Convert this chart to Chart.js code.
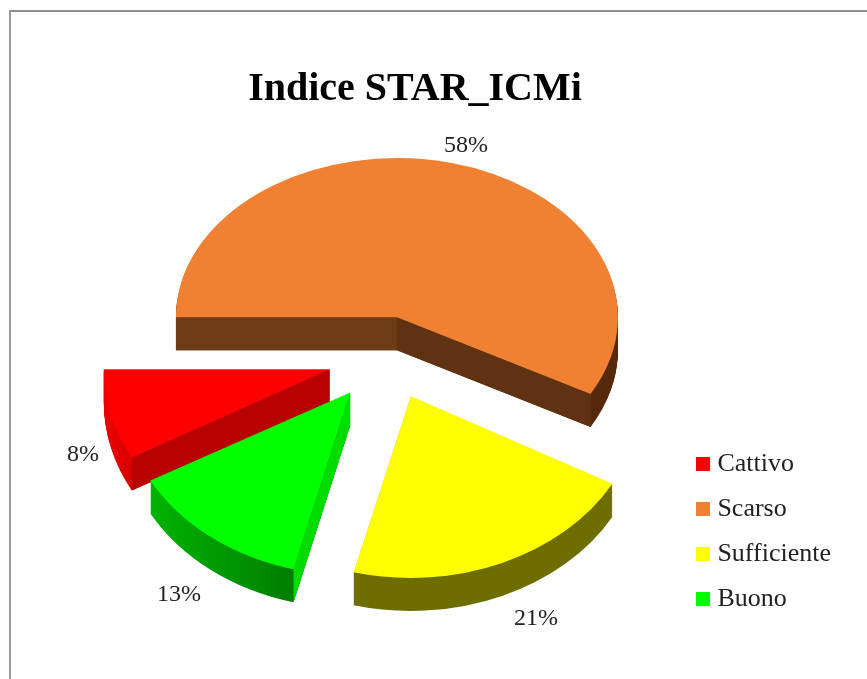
<!DOCTYPE html>
<html>
<head>
<meta charset="utf-8">
<style>
  html, body { margin: 0; padding: 0; background: #fff; width: 867px; height: 679px; overflow: hidden; }
  #frame { position: absolute; left: 9px; top: 10px; right: 0; bottom: 0; border-left: 2px solid #9a9a9a; border-top: 2px solid #8f8f8f; }
  canvas { position: absolute; left: 0; top: 0; }
</style>
</head>
<body>
<div id="frame"></div>
<canvas id="c" width="867" height="679"></canvas>
<script src="https://cdn.jsdelivr.net/npm/chart.js@4/dist/chart.umd.min.js"></script>
<script>
// ---- data ----
const categories = ['Cattivo', 'Scarso', 'Sufficiente', 'Buono'];
const percentages = [8, 58, 21, 13];
const titleText = 'Indice STAR_ICMi';

// ---- styles ----
const topColors = ['#ff0000', '#f08032', '#ffff00', '#00ff00'];
const wallLeftColors = ['#f00000', '#6b3a14', '#6e6e00', '#00b400'];
const wallRightColors = ['#d80000', '#57290c', '#6e6e00', '#007d00'];
const startFaceColors = ['#b80000', '#6d3b15', '#6e6e00', '#00dc00'];
const endFaceColors = ['#b80000', '#5f3211', '#6e6e00', '#00dc00'];

// ---- 3D layout ----
const pieCenterX = 385, pieCenterY = 356;
const explodeSquash = 0.73, wallDepth = 33;
const sliceSquash = [0.81, 0.72, 0.79, 0.80];
const sliceRadius = [226, 221, 230, 228];
const explode = [57, 52, 60, 60];
const perspectiveNudgeX = [0, -1, 2, 2];
const perspectiveNudgeY = [3, -2, 0, 2];
const startRotation = 241.2;
const labelCenters = [[83, 455], [466, 146], [536, 619], [179, 595]];
const FONT = '"Liberation Serif", "Times New Roman", serif';

function swatch(color) {
  const s = document.createElement('canvas');
  s.width = 14; s.height = 14;
  const g = s.getContext('2d');
  g.fillStyle = color; g.fillRect(0, 0, 14, 14);
  return s;
}

const pie3d = {
  id: 'pie3d',
  beforeDatasetsDraw(chart) {
    const ctx = chart.ctx;
    const meta = chart.getDatasetMeta(0);
    meta.data.forEach((arc, i) => {
      const saved = { options: arc.options, outer: arc.outerRadius };
      const R = sliceRadius[i], ss = sliceSquash[i];
      const half = (arc.startAngle + arc.endAngle) / 2;
      const off = explode[i];
      arc.outerRadius = R;
      const apexX = pieCenterX + Math.cos(half) * off + perspectiveNudgeX[i];
      const apexY = pieCenterY + Math.sin(half) * off * explodeSquash + perspectiveNudgeY[i];
      const edge = a => [apexX + R * Math.cos(a), apexY + R * Math.sin(a) * ss];

      const place = dy => {
        ctx.translate(apexX, apexY + dy);
        ctx.scale(1, ss);
        ctx.translate(-arc.x, -arc.y);
      };
      const opts = color => Object.assign({}, saved.options, { backgroundColor: color, offset: 0, borderWidth: 0 });

      // outer wall: the library's arc, repeated downwards
      const xs = [Math.cos(arc.startAngle), Math.cos(arc.endAngle)].map(c => arc.x + R * c);
      const grad = ctx.createLinearGradient(Math.min(...xs), 0, Math.max(...xs), 0);
      grad.addColorStop(0, wallLeftColors[i]);
      grad.addColorStop(1, wallRightColors[i]);
      arc.options = opts(grad);
      for (let d = wallDepth; d >= 1; d--) {
        ctx.save(); place(d); arc.draw(ctx); ctx.restore();
      }

      // cut faces that look towards the viewer
      const face = (a, color) => {
        const p = edge(a);
        ctx.fillStyle = color;
        ctx.beginPath();
        ctx.moveTo(apexX, apexY);
        ctx.lineTo(p[0], p[1]);
        ctx.lineTo(p[0], p[1] + wallDepth);
        ctx.lineTo(apexX, apexY + wallDepth);
        ctx.closePath();
        ctx.fill();
      };
      if (-Math.cos(arc.startAngle) > 0) face(arc.startAngle, startFaceColors[i]);
      if (Math.cos(arc.endAngle) > 0) face(arc.endAngle, endFaceColors[i]);

      // top face
      arc.options = opts(topColors[i]);
      ctx.save(); place(0); arc.draw(ctx); ctx.restore();

      arc.options = saved.options;
      arc.outerRadius = saved.outer;
    });

    // percentage labels
    ctx.save();
    ctx.font = '24px ' + FONT;
    ctx.fillStyle = '#222';
    ctx.textAlign = 'center';
    ctx.textBaseline = 'middle';
    percentages.forEach((v, i) => ctx.fillText(v + '%', labelCenters[i][0], labelCenters[i][1]));
    ctx.restore();
    return false;
  }
};

new Chart(document.getElementById('c'), {
  type: 'pie',
  data: {
    labels: categories,
    datasets: [{ data: percentages, backgroundColor: topColors, borderWidth: 0, offset: explode.map(e => e * 4) }]
  },
  options: {
    responsive: false,
    animation: false,
    rotation: startRotation,
    radius: 200,
    layout: { padding: { left: -11, right: 26, top: 0, bottom: 48 } },
    plugins: {
      tooltip: { enabled: false },
      title: {
        display: true,
        text: titleText,
        color: '#000',
        font: { family: FONT, size: 40, weight: 'bold' },
        padding: { top: 66, bottom: 10 }
      },
      legend: {
        display: true,
        position: 'right',
        align: 'end',
        labels: {
          color: '#222',
          font: { family: FONT, size: 26 },
          usePointStyle: true,
          pointStyleWidth: 2,
          boxHeight: 14,
          padding: 19,
          generateLabels(chart) {
            return categories.map((name, i) => ({
              text: name, fillStyle: topColors[i], strokeStyle: topColors[i], lineWidth: 0,
              pointStyle: swatch(topColors[i]), hidden: false, index: i, fontColor: '#222'
            }));
          }
        }
      }
    }
  },
  plugins: [pie3d]
});
</script>
</body>
</html>
